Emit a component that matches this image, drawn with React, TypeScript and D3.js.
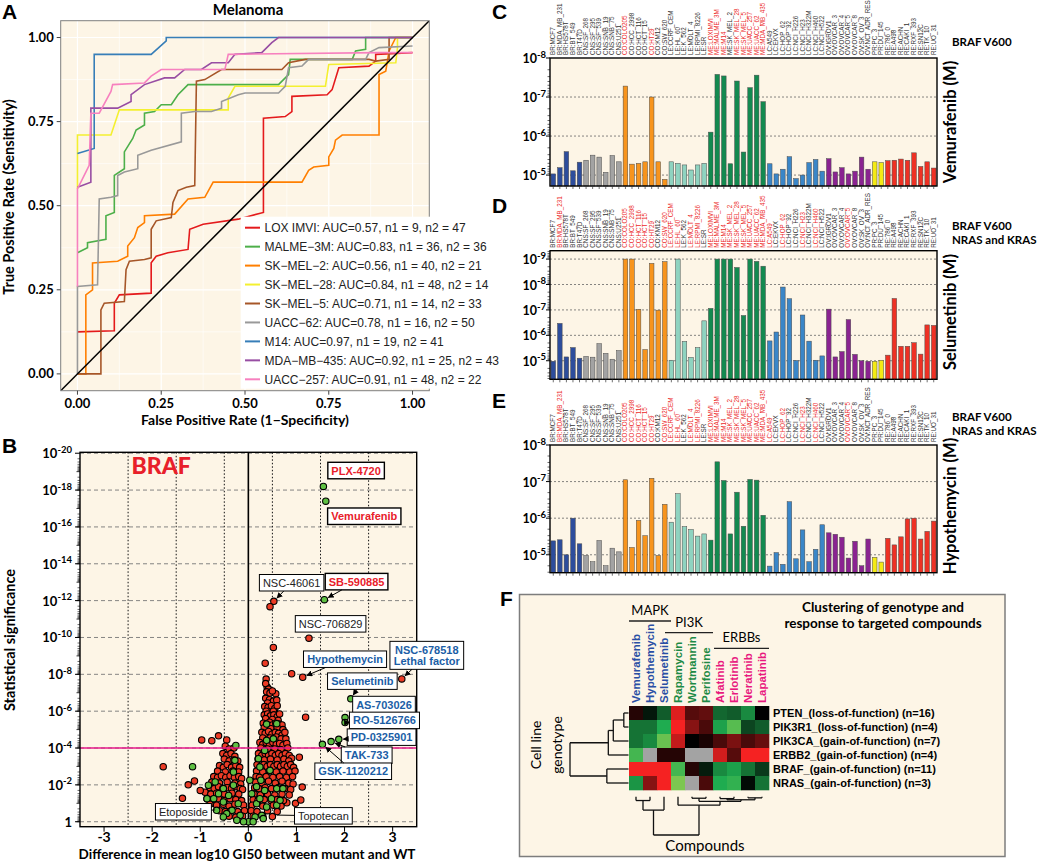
import React, { useEffect, useRef } from 'react';
import * as d3 from 'd3';

const BG = '#fdf5e6';
const SANS = '"Liberation Sans", Arial, sans-serif';
const HEAD = 'Lato, "Open Sans", sans-serif';

// ---------------- Panel A : ROC curves (fpr, tpr) ----------------
const rocLox = [[0,0.125],[0.11,0.128],[0.11,0.21],[0.125,0.235],[0.22,0.24],[0.22,0.33],[0.235,0.35],[0.27,0.36],[0.33,0.37],[0.335,0.43],[0.375,0.445],[0.48,0.46],[0.555,0.48],[0.555,0.76],[0.62,0.765],[0.64,0.78],[0.64,0.825],[0.745,0.83],[0.76,0.845],[0.78,0.91],[0.87,0.915],[0.89,0.93],[0.89,0.95],[1,0.955]];
const rocMalme = [[0,0.36],[0.03,0.375],[0.03,0.39],[0.085,0.4],[0.085,0.47],[0.11,0.48],[0.11,0.59],[0.14,0.61],[0.14,0.66],[0.165,0.7],[0.175,0.725],[0.2,0.74],[0.2,0.775],[0.23,0.78],[0.25,0.8],[0.28,0.8],[0.3,0.83],[0.33,0.86],[0.6,0.86],[0.63,0.89],[0.635,0.935],[0.82,0.935],[0.83,0.96],[0.86,0.965],[0.86,1.0],[1,1]];
const rocSkmel2 = [[0,0],[0.025,0],[0.025,0.235],[0.045,0.25],[0.045,0.33],[0.12,0.335],[0.15,0.35],[0.15,0.38],[0.17,0.405],[0.18,0.435],[0.2,0.45],[0.2,0.47],[0.29,0.475],[0.33,0.52],[0.38,0.525],[0.405,0.57],[0.67,0.57],[0.69,0.605],[0.705,0.615],[0.75,0.62],[0.75,0.645],[0.765,0.67],[0.77,0.695],[0.79,0.71],[0.9,0.71],[0.9,0.89],[0.92,0.9],[0.93,0.96],[0.95,1.0],[1,1]];
const rocSkmel28 = [[0,0.55],[0,0.71],[0.1,0.71],[0.125,0.785],[0.45,0.785],[0.45,0.82],[0.47,0.855],[0.74,0.855],[0.75,0.92],[0.95,0.925],[0.955,0.97],[0.955,1.0],[1,1]];
const rocSkmel5 = [[0,0],[0.07,0],[0.07,0.19],[0.08,0.21],[0.14,0.215],[0.145,0.31],[0.155,0.335],[0.2,0.34],[0.22,0.345],[0.22,0.43],[0.235,0.455],[0.28,0.465],[0.285,0.51],[0.3,0.545],[0.325,0.555],[0.35,0.56],[0.355,0.87],[0.38,0.875],[0.43,0.905],[0.61,0.905],[0.63,0.925],[0.68,0.935],[0.87,0.935],[0.89,0.93],[0.93,0.935],[0.93,1.0],[1,1]];
const rocUacc62 = [[0,0],[0,0.26],[0.06,0.265],[0.065,0.52],[0.1,0.525],[0.12,0.53],[0.12,0.59],[0.14,0.6],[0.18,0.61],[0.18,0.65],[0.22,0.665],[0.31,0.69],[0.31,0.775],[0.35,0.78],[0.4,0.78],[0.43,0.79],[0.43,0.81],[0.48,0.83],[0.5,0.835],[0.6,0.835],[0.62,0.855],[0.63,0.91],[0.67,0.915],[0.69,0.935],[0.86,0.935],[0.87,0.955],[0.9,0.97],[1,0.975]];
const rocM14 = [[0,0.655],[0.05,0.67],[0.05,0.95],[0.22,0.95],[0.265,0.99],[0.265,1.0],[1,1]];
const rocMda435 = [[0,0.555],[0.04,0.57],[0.04,0.79],[0.12,0.79],[0.16,0.81],[0.16,0.83],[0.2,0.86],[0.26,0.88],[0.29,0.88],[0.32,0.905],[0.37,0.905],[0.4,0.925],[0.45,0.925],[0.47,0.95],[0.55,0.955],[0.58,0.985],[0.6,1.0],[1,1]];
const rocUacc257 = [[0,0.26],[0,0.55],[0.025,0.6],[0.035,0.62],[0.04,0.775],[0.065,0.775],[0.1,0.84],[0.105,0.86],[0.2,0.865],[0.22,0.885],[0.25,0.905],[0.44,0.905],[0.45,0.95],[0.9,0.955],[1,0.955]];
const rocCurves = [rocLox, rocMalme, rocSkmel2, rocSkmel28, rocSkmel5, rocUacc62, rocM14, rocMda435, rocUacc257];
const rocLegend = [
  'LOX IMVI: AUC=0.57, n1 = 9, n2 = 47',
  'MALME\u22123M: AUC=0.83, n1 = 36, n2 = 36',
  'SK\u2212MEL\u22122: AUC=0.56, n1 = 40, n2 = 21',
  'SK\u2212MEL\u221228: AUC=0.84, n1 = 48, n2 = 14',
  'SK\u2212MEL\u22125: AUC=0.71, n1 = 14, n2 = 33',
  'UACC\u221262: AUC=0.78, n1 = 16, n2 = 50',
  'M14: AUC=0.97, n1 = 19, n2 = 41',
  'MDA\u2212MB\u2212435: AUC=0.92, n1 = 25, n2 = 43',
  'UACC\u2212257: AUC=0.91, n1 = 48, n2 = 22',
];
const rocColors = ['#e41a1c','#4daf4a','#ff7f00','#f4f030','#a65628','#999999','#377eb8','#984ea3','#f781bf'];
const rocTicks = [0, 0.25, 0.5, 0.75, 1];

// ---------------- Panel B : volcano (difference, -log10 p) ----------------
const bRedPts = [
  [0.53,11.96],[0.45,11.67],[1.26,9.96],[0.52,9.46],[0.35,8.6],[0.9,8.03],[1.13,7.84],[3.19,7.75],[0.37,7.74],[1.19,5.67],[1.06,3.5],
  [-1.77,2.99],[-1.25,2.0],[-1.12,2.21],[-1.37,1.27],[-0.97,4.44],[-0.76,4.4],[-0.62,4.66],[-0.45,4.44],
  [0.8,1.03],[0.98,1.0],[1.09,1.18],[1.12,1.88],[0.72,4.71],
  [0.39,7.31],[0.36,7.5],[0.42,7.2],[0.38,7.05],[0.45,6.98],[0.57,6.95],[0.5,7.1],
  [0.36,6.7],[0.44,6.62],[0.52,6.55],[0.59,6.6],[0.4,6.45],
  [0.34,6.25],[0.41,6.2],[0.48,6.3],[0.55,6.15],[0.6,6.3],[0.37,6.0],[0.52,6.0],
  [0.33,5.8],[0.4,5.85],[0.46,5.75],[0.53,5.8],[0.6,5.7],[0.65,5.85],[0.36,5.6],[0.5,5.55],[0.62,5.5],
  [0.31,5.35],[0.38,5.3],[0.44,5.4],[0.5,5.25],[0.57,5.35],[0.64,5.3],[0.7,5.25],[0.33,5.1],[0.47,5.05],[0.6,5.1],[0.72,5.0],
  [0.28,4.85],[0.35,4.8],[0.42,4.9],[0.49,4.75],[0.56,4.85],[0.63,4.8],[0.7,4.7],[0.76,4.85],[0.3,4.55],[0.45,4.55],[0.58,4.6],[0.68,4.5],[0.78,4.5],
  [0.24,4.3],[0.3,4.2],[0.37,4.3],[0.44,4.2],[0.51,4.3],[0.58,4.2],[0.65,4.25],[0.72,4.15],[0.8,4.25],[0.26,4.0],[0.4,3.95],[0.55,3.95],[0.68,3.9],[0.82,4.0],
  [0.21,3.7],[0.28,3.6],[0.35,3.7],[0.42,3.6],[0.49,3.7],[0.56,3.6],[0.63,3.7],[0.7,3.6],[0.77,3.7],[0.85,3.6],[0.9,3.45],[0.2,3.4],[0.33,3.35],[0.46,3.4],[0.6,3.35],[0.74,3.4],[0.84,3.3],
  [0.18,3.1],[0.25,3.0],[0.32,3.1],[0.39,3.0],[0.46,3.1],[0.53,3.0],[0.6,3.1],[0.67,3.0],[0.74,3.1],[0.81,3.0],[0.88,3.1],[0.94,2.95],[0.17,2.75],[0.3,2.7],[0.44,2.75],[0.58,2.7],[0.72,2.75],[0.86,2.7],[0.97,2.75],
  [0.16,2.45],[0.23,2.4],[0.37,2.45],[0.51,2.4],[0.65,2.45],[0.79,2.4],[0.92,2.45],[0.15,2.15],[0.28,2.1],[0.42,2.2],[0.56,2.1],[0.7,2.2],[0.84,2.1],[0.93,2.05],
  [0.13,1.85],[0.22,1.8],[0.35,1.85],[0.48,1.8],[0.62,1.85],[0.76,1.8],[0.88,1.75],[0.12,1.5],[0.25,1.45],[0.4,1.5],[0.55,1.45],[0.7,1.5],[0.85,1.45],
  [0.1,1.2],[0.2,1.15],[0.33,1.2],[0.47,1.15],[0.6,1.2],[0.73,1.15],[0.08,0.9],[0.3,0.85],[0.52,0.9],[0.68,0.85],
  [0.06,0.6],[0.18,0.55],[0.4,0.6],[0.6,0.55],[0.1,0.3],[0.3,0.3],[0.5,0.28],
  [-0.48,4.1],[-0.4,3.95],[-0.3,4.0],
  [-0.53,3.7],[-0.45,3.6],[-0.36,3.7],[-0.28,3.55],[-0.5,3.4],[-0.4,3.3],[-0.3,3.35],[-0.22,3.3],
  [-0.6,3.05],[-0.52,2.95],[-0.44,3.1],[-0.35,2.95],[-0.26,3.05],[-0.18,2.95],[-0.64,2.75],[-0.48,2.7],[-0.32,2.75],[-0.2,2.7],
  [-0.72,2.45],[-0.64,2.4],[-0.56,2.5],[-0.47,2.4],[-0.38,2.5],[-0.29,2.4],[-0.2,2.45],[-0.14,2.35],[-0.76,2.15],[-0.6,2.1],[-0.44,2.15],[-0.28,2.1],[-0.16,2.05],
  [-0.8,1.85],[-0.71,1.8],[-0.62,1.9],[-0.53,1.8],[-0.44,1.85],[-0.35,1.8],[-0.26,1.9],[-0.17,1.8],[-0.12,1.75],[-0.9,1.6],[-1.0,1.7],[-0.78,1.5],[-0.66,1.55],[-0.5,1.5],[-0.34,1.55],[-0.2,1.5],
  [-0.86,1.25],[-0.74,1.2],[-0.62,1.25],[-0.5,1.15],[-0.38,1.25],[-0.26,1.2],[-0.14,1.15],[-0.8,0.95],[-0.66,0.9],[-0.52,0.95],[-0.4,0.85],[-0.28,0.95],[-0.1,0.9],
  [-0.6,0.6],[-0.48,0.55],[-0.36,0.6],[-0.22,0.55],[-0.08,0.6],[-0.4,0.3],[-0.26,0.25],[-0.12,0.3],
];
const bGreenPts = [
  [1.56,18.2],[1.61,17.4],[1.58,12.05],[2.13,6.67],[2.01,5.65],[2.01,5.38],[1.88,4.47],[1.72,4.35],[1.54,4.2],[-1.16,2.99],
  [-0.26,4.14],[0.38,5.3],[0.59,5.32],[0.38,4.42],[0.52,4.5],[0.21,3.42],[0.45,2.79],[0.26,2.25],[0.17,1.9],[0.59,1.8],[0.34,1.7],[0.72,1.8],
  [0.17,0.98],[0.38,0.8],[0.59,0.9],[0.28,0.35],[0,0],[0.14,0.26],[-0.17,0.35],[-0.34,0.62],[-0.52,1.07],[-0.62,1.52],[-0.52,1.8],[-0.69,2.16],
  [-0.31,1.98],[-0.31,2.7],[-0.28,3.33],[-0.41,1.43],[-0.83,1.98],[-0.72,1.25],[-0.45,0.44],[-0.21,0.98],[0.03,2.25],[0.07,1.52],[0.24,1.25],
  [0.48,1.25],[0.66,1.16],[0.34,3.87],[0.24,2.97],[0.31,0.17],[-0.1,0.0],[-0.24,0.08],[0.1,0.0],[-0.52,0.26],[-0.66,0.62],[-0.86,1.25],
];
const bYTicks = [0,2,4,6,8,10,12,14,16,18,20];
const bXTicks = [-3,-2,-1,0,1,2,3];
const bDotted = [-2.5,-1.5,-0.5,0.5,1.5,2.5];
const bThreshold = 4;
const bAnno = [
  { t: ['PLX-4720'], k: 'red', lx: 2.24, ly: 19.06 },
  { t: ['Vemurafenib'], k: 'red', lx: 2.41, ly: 16.58 },
  { t: ['NSC-46061'], k: 'plain', lx: 0.9, ly: 12.97, px: 0.53, py: 11.96 },
  { t: ['SB-590885'], k: 'red', lx: 2.25, ly: 13.03, px: 1.58, py: 12.05 },
  { t: ['NSC-706829'], k: 'plain', lx: 1.71, ly: 10.74 },
  { t: ['Hypothemycin'], k: 'blue', lx: 2.01, ly: 8.82, px: 1.13, py: 7.84 },
  { t: ['NSC-678518', 'Lethal factor'], k: 'blue', lx: 3.71, ly: 9.03, px: 3.19, py: 7.75 },
  { t: ['Selumetinib'], k: 'blue', lx: 2.37, ly: 7.63, px: 2.13, py: 6.67 },
  { t: ['AS-703026'], k: 'blue', lx: 2.82, ly: 6.36, px: 2.01, py: 5.65 },
  { t: ['RO-5126766'], k: 'blue', lx: 2.83, ly: 5.5, px: 2.01, py: 5.38 },
  { t: ['PD-0325901'], k: 'blue', lx: 2.77, ly: 4.59, px: 1.88, py: 4.47 },
  { t: ['TAK-733'], k: 'blue', lx: 2.46, ly: 3.61, px: 1.72, py: 4.35 },
  { t: ['GSK-1120212'], k: 'blue', lx: 2.18, ly: 2.74, px: 1.54, py: 4.2 },
  { t: ['Etoposide'], k: 'plain', lx: -1.35, ly: 0.54, px: -0.69, py: 0.64, noArrow: true },
  { t: ['Topotecan'], k: 'plain', lx: 1.56, ly: 0.32, px: 0.59, py: 0.36, noArrow: true },
];

// ---------------- Panels C, D, E : NCI-60 bars (-log10 GI50) ----------------
const cellLines = ['BR:MCF7','BR:MDA_MB_231','BR:HS578T','BR:BT_549','BR:T47D','CNS:SF_268','CNS:SF_295','CNS:SF_539','CNS:SNB_19','CNS:SNB_75','CNS:U251','CO:COLO205','CO:HCC_2998','CO:HCT_116','CO:HCT_15','CO:HT29','CO:KM12','CO:SW_620','LE:CCRF_CEM','LE:HL_60','LE:K_562','LE:MOLT_4','LE:RPMI_8226','LE:SR','ME:LOXIMVI','ME:MALME_3M','ME:M14','ME:SK_MEL_2','ME:SK_MEL_28','ME:SK_MEL_5','ME:UACC_257','ME:UACC_62','ME:MDA_MB_435','LC:A549','LC:EKVX','LC:HOP_62','LC:HOP_92','LC:NCI_H226','LC:NCI_H23','LC:NCI_H322M','LC:NCI_H460','LC:NCI_H522','OV:IGROV1','OV:OVCAR_3','OV:OVCAR_4','OV:OVCAR_5','OV:OVCAR_8','OV:SK_OV_3','OV:NCI_ADR_RES','PR:PC_3','PR:DU_145','RE:786_0','RE:A498','RE:ACHN','RE:CAKI_1','RE:RXF_393','RE:SN12C','RE:TK_10','RE:UO_31'];
const vemurafenib = [5.03,5.19,5.6,5.11,5.33,5.38,5.51,5.46,5.07,5.5,5.34,7.28,5.28,5.3,5.34,7.0,5.34,4.89,5.34,5.3,5.26,5.13,5.26,5.3,6.1,7.58,7.54,5.29,7.41,5.59,7.24,7.56,6.88,5.29,5.03,5.15,5.47,4.91,5.0,5.32,5.4,5.1,5.42,5.08,5.19,5.03,5.1,5.46,5.15,5.34,5.32,5.37,5.38,5.41,5.38,5.57,5.22,5.34,5.18];
const selumetinib = [4.98,6.47,5.15,5.52,5.1,5.17,5.14,5.67,5.29,5.06,5.4,9.0,9.0,7.02,5.44,8.83,6.99,8.9,5.02,9.0,5.76,5.13,5.52,6.57,7.06,9.0,9.0,9.0,8.67,6.78,9.0,8.91,8.72,5.78,6.13,7.9,7.44,5.01,6.8,5.77,5.02,5.19,7.03,5.15,5.36,6.62,5.25,5.0,4.98,4.98,5.02,5.22,7.45,5.57,5.57,5.71,5.26,6.41,6.39];
const hypothemycin = [5.38,5.41,5.0,6.0,5.3,4.98,4.81,5.39,4.7,5.18,5.08,7.05,5.2,5.94,5.52,7.09,4.98,6.38,5.89,6.67,5.77,5.69,5.51,5.57,5.4,7.54,7.03,5.57,6.71,5.78,7.06,7.04,6.08,4.69,5.06,4.74,6.45,4.89,5.68,4.81,5.15,5.82,5.6,5.56,5.48,4.91,5.37,4.7,5.43,4.93,4.8,5.45,5.27,5.49,5.98,6.0,5.43,5.64,5.92];
const redLabelsC = ['CO:COLO205','CO:HT29','ME:LOXIMVI','ME:MALME_3M','ME:M14','ME:SK_MEL_28','ME:SK_MEL_5','ME:UACC_257','ME:UACC_62','ME:MDA_MB_435'];
const redLabelsDE = ['BR:MDA_MB_231','CO:COLO205','CO:HCC_2998','CO:HCT_116','CO:HCT_15','CO:HT29','CO:SW_620','LE:CCRF_CEM','LE:HL_60','LE:MOLT_4','LE:RPMI_8226','ME:LOXIMVI','ME:MALME_3M','ME:M14','ME:SK_MEL_2','ME:SK_MEL_28','ME:SK_MEL_5','ME:UACC_257','ME:UACC_62','ME:MDA_MB_435','LC:A549','LC:HOP_62','LC:NCI_H23','LC:NCI_H460','OV:OVCAR_5'];
const tissueColors = { BR: '#2d4d9c', CNS: '#a3a3a3', CO: '#f7941d', LE: '#8fd3c0', ME: '#138a50', LC: '#3a86c8', OV: '#8a2391', PR: '#f4ea14', RE: '#ee3124' };

// ---------------- Panel F : clustered heatmap ----------------
const compounds = ['Vemurafenib','Hypothemycin','Selumetinib','Rapamycin','Wortmannin','Perifosine','Afatinib','Erlotinib','Neratinib','Lapatinib'];
const compoundClass = ['MAPK','MAPK','MAPK','PI3K','PI3K','PI3K','ERBB','ERBB','ERBB','ERBB'];
const genotypes = ['PTEN_(loss-of-function) (n=16)','PIK3R1_(loss-of-function) (n=4)','PIK3CA_(gain-of-function) (n=7)','ERBB2_(gain-of-function) (n=4)','BRAF_(gain-of-function) (n=11)','NRAS_(gain-of-function) (n=3)'];
const heatPTEN = [0.15,-0.1,-0.4,0.9,0.35,0.4,-0.45,-0.4,-0.6,0.0];
const heatPIK3R1 = [-0.5,-0.5,-0.75,1.0,0.55,0.3,-0.7,-0.9,-0.3,-0.4];
const heatPIK3CA = [-0.5,-0.6,-0.95,0.8,0.0,0.1,0.3,0.5,0.3,0.42];
const heatERBB2 = [-0.85,NaN,0.15,0.15,NaN,NaN,0.85,0.35,1.0,1.0];
const heatBRAF = [1.0,1.0,1.0,-0.85,0.15,-0.12,-0.6,-0.7,-0.5,-0.25];
const heatNRAS = [-0.65,0.55,1.0,-1.0,NaN,0.3,-0.75,-0.8,-0.05,-0.5];
const heatRows = [heatPTEN, heatPIK3R1, heatPIK3CA, heatERBB2, heatBRAF, heatNRAS];
const rowMerges = [['L0','L1',0.08],['N0','L2',0.26],['N1','L3',0.345],['L4','L5',0.37],['N2','N3',1.0]];
const colMerges = [['L0','L1',0.1],['N0','L2',0.35],['L4','L5',0.04],['L6','L7',0.05],['L8','L9',0.03],['N3','N4',0.08],['N2','N5',0.12],['L3','N6',0.22],['N1','N7',1.0]];

function supLabel(sel: any, x: number, y: number, base: string, exp: string, size: number, expSize: number, anchor = 'end') {
  const t = sel.append('text').attr('x', x).attr('y', y).attr('text-anchor', anchor)
    .attr('font-family', HEAD).attr('font-weight', 700).attr('font-size', size).attr('fill', '#000');
  t.append('tspan').text(base);
  if (exp) t.append('tspan').attr('dy', -size * 0.42).attr('font-size', expSize).text(exp);
  return t;
}

function draw(svg: any) {
  const defs = svg.append('defs');
  defs.append('marker').attr('id', 'arr').attr('viewBox', '0 0 10 10').attr('refX', 9).attr('refY', 5)
    .attr('markerWidth', 6).attr('markerHeight', 6).attr('orient', 'auto')
    .append('path').attr('d', 'M0,0 L10,5 L0,10 z').attr('fill', '#000');

  // panel letters
  const letters = [['A', 2, 19], ['B', 2, 453], ['C', 492, 19], ['D', 492, 213], ['E', 492, 408], ['F', 500, 606]];
  letters.forEach(([l, x, y]) => svg.append('text').attr('x', x).attr('y', y).attr('font-family', SANS)
    .attr('font-weight', 700).attr('font-size', 21).text(l));

  // ======== Panel A ========
  const A = { l: 60.7, r: 429.3, t: 20.7, b: 390.7 };
  const xA = d3.scaleLinear().domain([-0.05, 1.05]).range([A.l, A.r]);
  const yA = d3.scaleLinear().domain([-0.05, 1.05]).range([A.b, A.t]);
  const gA = svg.append('g');
  gA.append('rect').attr('x', A.l).attr('y', A.t).attr('width', A.r - A.l).attr('height', A.b - A.t).attr('fill', BG);
  [0.125, 0.375, 0.625, 0.875].forEach(v => {
    gA.append('line').attr('x1', xA(v)).attr('x2', xA(v)).attr('y1', A.t).attr('y2', A.b).attr('stroke', '#fff').attr('stroke-width', 0.6);
    gA.append('line').attr('y1', yA(v)).attr('y2', yA(v)).attr('x1', A.l).attr('x2', A.r).attr('stroke', '#fff').attr('stroke-width', 0.6);
  });
  rocTicks.forEach(v => {
    gA.append('line').attr('x1', xA(v)).attr('x2', xA(v)).attr('y1', A.t).attr('y2', A.b).attr('stroke', '#fff').attr('stroke-width', 1.2);
    gA.append('line').attr('y1', yA(v)).attr('y2', yA(v)).attr('x1', A.l).attr('x2', A.r).attr('stroke', '#fff').attr('stroke-width', 1.2);
  });
  defs.append('clipPath').attr('id', 'clipA').append('rect').attr('x', A.l).attr('y', A.t).attr('width', A.r - A.l).attr('height', A.b - A.t);
  const gAL = gA.append('g').attr('clip-path', 'url(#clipA)');
  const lineA = d3.line().x((d: any) => xA(d[0])).y((d: any) => yA(d[1]));
  rocCurves.forEach((c, i) => gAL.append('path').attr('d', lineA(c as any)).attr('fill', 'none')
    .attr('stroke', rocColors[i]).attr('stroke-width', 1.6));
  gAL.append('line').attr('x1', xA(-0.05)).attr('y1', yA(-0.05)).attr('x2', xA(1.05)).attr('y2', yA(1.05))
    .attr('stroke', '#000').attr('stroke-width', 1.5);
  gA.append('rect').attr('x', A.l).attr('y', A.t).attr('width', A.r - A.l).attr('height', A.b - A.t)
    .attr('fill', 'none').attr('stroke', '#7f7f7f').attr('stroke-width', 1);
  rocTicks.forEach(v => {
    gA.append('line').attr('x1', A.l - 4).attr('x2', A.l).attr('y1', yA(v)).attr('y2', yA(v)).attr('stroke', '#444');
    gA.append('line').attr('y1', A.b).attr('y2', A.b + 4).attr('x1', xA(v)).attr('x2', xA(v)).attr('stroke', '#444');
    gA.append('text').attr('x', A.l - 7).attr('y', yA(v) + 4.5).attr('text-anchor', 'end').attr('font-family', HEAD)
      .attr('font-weight', 700).attr('font-size', 13).text(d3.format('.2f')(v));
    gA.append('text').attr('x', xA(v)).attr('y', 408).attr('text-anchor', 'middle').attr('font-family', HEAD)
      .attr('font-weight', 700).attr('font-size', 13).text(d3.format('.2f')(v));
  });
  gA.append('text').attr('x', 248).attr('y', 15).attr('text-anchor', 'middle').attr('font-family', HEAD)
    .attr('font-weight', 700).attr('font-size', 15).text('Melanoma');
  gA.append('text').attr('x', 245).attr('y', 425).attr('text-anchor', 'middle').attr('font-family', HEAD)
    .attr('font-weight', 700).attr('font-size', 14).text('False Positive Rate (1\u2212Specificity)');
  gA.append('text').attr('transform', 'translate(14,197) rotate(-90)').attr('text-anchor', 'middle').attr('font-family', HEAD)
    .attr('font-weight', 700).attr('font-size', 14.5).text('True Positive Rate (Sensitivity)');
  // legend
  const lg = gA.append('g');
  lg.append('rect').attr('x', 240.7).attr('y', 216.7).attr('width', 239.3).attr('height', 172).attr('fill', '#fff');
  rocLegend.forEach((s, i) => {
    const y = 227.7 + i * 18.95;
    lg.append('line').attr('x1', 245).attr('x2', 260).attr('y1', y).attr('y2', y).attr('stroke', rocColors[i]).attr('stroke-width', 2);
    lg.append('text').attr('x', 264.5).attr('y', y + 4.2).attr('font-family', SANS).attr('font-size', 12).attr('fill', '#222').text(s);
  });

  // ======== Panel B ========
  const B = { l: 80, r: 416.7, t: 452.3, b: 826.7 };
  const xB = d3.scaleLinear().domain([-3.5, 3.5]).range([B.l, B.r]);
  const yB = d3.scaleLinear().domain([-0.27, 20.05]).range([B.b, B.t]);
  const gB = svg.append('g');
  gB.append('rect').attr('x', B.l).attr('y', B.t).attr('width', B.r - B.l).attr('height', B.b - B.t).attr('fill', BG);
  bYTicks.forEach(v => gB.append('line').attr('x1', B.l).attr('x2', B.r).attr('y1', yB(v)).attr('y2', yB(v))
    .attr('stroke', '#777').attr('stroke-width', 0.9).attr('stroke-dasharray', '4,3'));
  bDotted.forEach(v => gB.append('line').attr('x1', xB(v)).attr('x2', xB(v)).attr('y1', B.t).attr('y2', B.b)
    .attr('stroke', '#111').attr('stroke-width', 1).attr('stroke-dasharray', '1.5,2'));
  gB.append('line').attr('x1', xB(0)).attr('x2', xB(0)).attr('y1', B.t).attr('y2', B.b).attr('stroke', '#000').attr('stroke-width', 1.6);
  defs.append('clipPath').attr('id', 'clipB').append('rect').attr('x', B.l).attr('y', B.t).attr('width', B.r - B.l).attr('height', B.b - B.t);
  const gBP = gB.append('g').attr('clip-path', 'url(#clipB)');
  gBP.selectAll('circle.r').data(bRedPts).enter().append('circle').attr('cx', (d: any) => xB(d[0])).attr('cy', (d: any) => yB(d[1]))
    .attr('r', 3.2).attr('fill', '#ec3b25').attr('stroke', '#000').attr('stroke-width', 1.1);
  gBP.selectAll('circle.g').data(bGreenPts).enter().append('circle').attr('cx', (d: any) => xB(d[0])).attr('cy', (d: any) => yB(d[1]))
    .attr('r', 3.2).attr('fill', '#5fc043').attr('stroke', '#000').attr('stroke-width', 1.1);
  gB.append('line').attr('x1', B.l).attr('x2', B.r).attr('y1', yB(bThreshold)).attr('y2', yB(bThreshold))
    .attr('stroke', '#e6198a').attr('stroke-width', 1.6);
  gB.append('rect').attr('x', B.l).attr('y', B.t).attr('width', B.r - B.l).attr('height', B.b - B.t)
    .attr('fill', 'none').attr('stroke', '#000').attr('stroke-width', 1.4);
  // y axis ticks
  for (let d = 0; d < 20; d++) {
    for (let k = 2; k <= 9; k++) {
      const v = d + 1 - Math.log10(k);
      gB.append('line').attr('x1', B.l - 2.5).attr('x2', B.l).attr('y1', yB(v)).attr('y2', yB(v)).attr('stroke', '#000').attr('stroke-width', 0.6);
    }
    gB.append('line').attr('x1', B.l - 3.5).attr('x2', B.l).attr('y1', yB(d)).attr('y2', yB(d)).attr('stroke', '#000').attr('stroke-width', 0.8);
  }
  bYTicks.forEach(v => {
    gB.append('line').attr('x1', B.l - 5).attr('x2', B.l).attr('y1', yB(v)).attr('y2', yB(v)).attr('stroke', '#000');
    if (v === 0) supLabel(gB, 72, yB(v) + 5, '1', '', 13, 9);
    else supLabel(gB, 72, yB(v) + 5, '10', '-' + v, 13, 9.5);
  });
  bXTicks.forEach(v => {
    gB.append('line').attr('x1', xB(v)).attr('x2', xB(v)).attr('y1', B.b).attr('y2', B.b + 5).attr('stroke', '#000');
    gB.append('text').attr('x', xB(v)).attr('y', 842).attr('text-anchor', 'middle').attr('font-family', HEAD)
      .attr('font-weight', 700).attr('font-size', 14).text(String(v));
  });
  gB.append('text').attr('x', 247).attr('y', 859).attr('text-anchor', 'middle').attr('font-family', HEAD)
    .attr('font-weight', 700).attr('font-size', 13.5).text('Difference in mean log10 GI50 between mutant and WT');
  gB.append('text').attr('transform', 'translate(15,640) rotate(-90)').attr('text-anchor', 'middle').attr('font-family', HEAD)
    .attr('font-weight', 700).attr('font-size', 14.5).text('Statistical significance');
  gB.append('text').attr('x', xB(-2.43)).attr('y', yB(18.85)).attr('font-family', HEAD).attr('font-weight', 900)
    .attr('font-size', 23).attr('fill', '#e8202a').text('BRAF');
  // annotations
  const annoColor: any = { red: '#e8202a', blue: '#1b5ea6', plain: '#222' };
  bAnno.forEach((a: any) => {
    const cx = xB(a.lx), cy = yB(a.ly);
    const g = gB.append('g');
    const bold = a.k !== 'plain';
    const lh = 11.5;
    const t = g.append('text').attr('font-family', SANS).attr('font-size', 11).attr('font-weight', bold ? 700 : 400)
      .attr('fill', annoColor[a.k]).attr('text-anchor', 'middle');
    a.t.forEach((s: string, i: number) => t.append('tspan').attr('x', cx)
      .attr('y', cy + 4 + (i - (a.t.length - 1) / 2) * lh).text(s));
    const bb = (t.node() as any).getBBox();
    const w = bb.width + 7, h = a.t.length * lh + 5;
    const rx = cx - w / 2, ry = cy - h / 2;
    g.insert('rect', 'text').attr('x', rx).attr('y', ry).attr('width', w).attr('height', h).attr('fill', '#fff')
      .attr('stroke', '#000').attr('stroke-width', a.k === 'red' ? 1.4 : 1);
    if (a.px !== undefined) {
      const px = xB(a.px), py = yB(a.py);
      const dx = px - cx, dy = py - cy;
      const s = Math.min(Math.abs((w / 2) / (dx || 1e-6)), Math.abs((h / 2) / (dy || 1e-6)));
      const sx = cx + dx * s, sy = cy + dy * s;
      const len = Math.hypot(px - sx, py - sy);
      const back = a.noArrow ? 0 : 4.5;
      const ex = px - (px - sx) / len * back, ey = py - (py - sy) / len * back;
      const ln = gB.append('line').attr('x1', sx).attr('y1', sy).attr('x2', ex).attr('y2', ey).attr('stroke', '#000').attr('stroke-width', 1);
      if (!a.noArrow) ln.attr('marker-end', 'url(#arr)');
    }
  });

  // ======== Panels C, D, E ========
  const xBar = d3.scaleBand().domain(cellLines).range([550, 937]).paddingInner(0.3).paddingOuter(0.15);
  const barPanels = [
    { vals: vemurafenib, top: 58, bot: 186, dom: [4.72, 8.0], ticks: [5, 6, 7, 8], red: redLabelsC, title: 'Vemurafenib (M)', ty: 122, hdr: ['BRAF V600'], hy: 46 },
    { vals: selumetinib, top: 250.7, bot: 379.3, dom: [4.27, 9.33], ticks: [5, 6, 7, 8, 9], red: redLabelsDE, title: 'Selumetinib (M)', ty: 312, hdr: ['BRAF V600', 'NRAS and KRAS'], hy: 230 },
    { vals: hypothemycin, top: 445, bot: 572.7, dom: [4.51, 8.0], ticks: [5, 6, 7, 8], red: redLabelsDE, title: 'Hypothemycin (M)', ty: 506, hdr: ['BRAF V600', 'NRAS and KRAS'], hy: 421 },
  ];
  barPanels.forEach((p, pi) => {
    const g = svg.append('g');
    const y = d3.scaleLinear().domain(p.dom).range([p.bot, p.top]);
    g.append('rect').attr('x', 550).attr('y', p.top).attr('width', 387).attr('height', p.bot - p.top).attr('fill', BG);
    p.ticks.forEach(v => {
      if (y(v) > p.top + 2) g.append('line').attr('x1', 550).attr('x2', 937).attr('y1', y(v)).attr('y2', y(v))
        .attr('stroke', '#666').attr('stroke-width', 0.8).attr('stroke-dasharray', '2,2');
    });
    g.selectAll('rect.bar').data(p.vals).enter().append('rect')
      .attr('x', (d: any, i: number) => xBar(cellLines[i]) as number)
      .attr('width', xBar.bandwidth())
      .attr('y', (d: any) => y(d)).attr('height', (d: any) => p.bot - y(d))
      .attr('fill', (d: any, i: number) => (tissueColors as any)[cellLines[i].split(':')[0]])
      .attr('stroke', '#4a4a4a').attr('stroke-width', 0.5);
    g.append('rect').attr('x', 550).attr('y', p.top).attr('width', 387).attr('height', p.bot - p.top)
      .attr('fill', 'none').attr('stroke', '#000').attr('stroke-width', 1.4);
    // minor ticks
    for (let d = Math.floor(p.dom[0]); d < Math.ceil(p.dom[1]); d++) {
      for (let k = 2; k <= 9; k++) {
        const v = d + 1 - Math.log10(k);
        if (v > p.dom[0] && v < p.dom[1]) g.append('line').attr('x1', 547.5).attr('x2', 550).attr('y1', y(v)).attr('y2', y(v)).attr('stroke', '#000').attr('stroke-width', 0.6);
      }
    }
    p.ticks.forEach(v => {
      g.append('line').attr('x1', 546).attr('x2', 550).attr('y1', y(v)).attr('y2', y(v)).attr('stroke', '#000');
      supLabel(g, 546, y(v) + 5, '10', '-' + v, 12.5, 9.5);
    });
    cellLines.forEach((c, i) => {
      const cx = (xBar(c) as number) + xBar.bandwidth() / 2;
      g.append('line').attr('x1', cx).attr('x2', cx).attr('y1', p.bot).attr('y2', p.bot + 3).attr('stroke', '#333').attr('stroke-width', 0.7);
      g.append('text').attr('transform', `translate(${cx + 2},${p.top - 3}) rotate(-90)`).attr('font-family', SANS)
        .attr('font-size', 6.3).attr('fill', p.red.includes(c) ? '#ec2a2a' : '#333').text(c);
    });
    g.append('text').attr('transform', `translate(956,${p.ty}) rotate(-90)`).attr('text-anchor', 'middle').attr('font-family', HEAD)
      .attr('font-weight', 700).attr('font-size', 16.5).text(p.title);
    p.hdr.forEach((h, i) => g.append('text').attr('x', 952).attr('y', p.hy + i * 13.5).attr('font-family', HEAD)
      .attr('font-weight', 700).attr('font-size', 11.5).text(h));
  });

  // ======== Panel F ========
  const gF = svg.append('g');
  gF.append('rect').attr('x', 519.5).attr('y', 594.5).attr('width', 485.5).attr('height', 262).attr('fill', BG)
    .attr('stroke', '#7d7d7d').attr('stroke-width', 1.5);
  const xF = d3.scaleBand().domain(compounds).range([629, 769]);
  const yF = d3.scaleBand().domain(genotypes).range([706, 790]);
  const heatColor = d3.scaleLinear<string>().domain([-1, -0.75, 0, 1]).range(['#7cc650', '#1fac50', '#000000', '#f52222']);
  heatRows.forEach((row, ri) => row.forEach((v, ci) => {
    gF.append('rect').attr('x', xF(compounds[ci]) as number).attr('y', yF(genotypes[ri]) as number)
      .attr('width', xF.bandwidth() + 0.3).attr('height', yF.bandwidth() + 0.3)
      .attr('fill', isNaN(v) ? '#a3a3a3' : heatColor(v));
  }));
  const classColor: any = { MAPK: '#2a4fa5', PI3K: '#1d8a45', ERBB: '#e8197f' };
  compounds.forEach((c, i) => {
    const cx = (xF(c) as number) + xF.bandwidth() / 2;
    gF.append('text').attr('transform', `translate(${cx + 4.3},703) rotate(-90)`).attr('font-family', SANS)
      .attr('font-weight', 700).attr('font-size', 11.5).attr('fill', classColor[compoundClass[i]]).text(c);
  });
  genotypes.forEach(gname => gF.append('text').attr('x', 773).attr('y', (yF(gname) as number) + yF.bandwidth() / 2 + 4)
    .attr('font-family', SANS).attr('font-weight', 700).attr('font-size', 11).text(gname));
  // group headers
  const groups = [['MAPK', 0, 2, 621, 'MAPK'], ['PI3K', 3, 5, 632.7, 'PI3K'], ['ERBB', 6, 9, 648.3, 'ERBBs']];
  groups.forEach(([k, a, b, ly, lab]: any) => {
    const x1 = xF(compounds[a]) as number, x2 = (xF(compounds[b]) as number) + xF.bandwidth();
    const lx1 = k === 'PI3K' ? x1 - 6 : k === 'ERBB' ? x1 + 1 : x1;
    gF.append('line').attr('x1', lx1).attr('x2', x2).attr('y1', ly).attr('y2', ly).attr('stroke', '#222').attr('stroke-width', 1.3);
    gF.append('text').attr('x', (lx1 + x2) / 2).attr('y', ly - 6).attr('text-anchor', 'middle').attr('font-family', HEAD)
      .attr('font-size', 13).text(lab);
  });
  gF.append('text').attr('x', 883).attr('y', 612).attr('text-anchor', 'middle').attr('font-family', HEAD).attr('font-weight', 700)
    .attr('font-size', 13.5).text('Clustering of genotype and');
  gF.append('text').attr('x', 883).attr('y', 628).attr('text-anchor', 'middle').attr('font-family', HEAD).attr('font-weight', 700)
    .attr('font-size', 13.5).text('response to targeted compounds');
  // dendrograms
  function drawTree(merges: any[], leafPos: number[], coord: (h: number) => number, row: boolean) {
    const pos: any = {}, ht: any = {};
    leafPos.forEach((p, i) => { pos['L' + i] = p; ht['L' + i] = 0; });
    merges.forEach((m, i) => {
      const [a, b, h] = m;
      const id = 'N' + i;
      pos[id] = (pos[a] + pos[b]) / 2; ht[id] = h;
      const segs = [[ht[a], pos[a], h, pos[a]], [ht[b], pos[b], h, pos[b]], [h, pos[a], h, pos[b]]];
      segs.forEach(([h1, p1, h2, p2]) => {
        const l = gF.append('line').attr('stroke', '#111').attr('stroke-width', 1.3);
        if (row) l.attr('x1', coord(h1)).attr('x2', coord(h2)).attr('y1', p1).attr('y2', p2);
        else l.attr('y1', coord(h1)).attr('y2', coord(h2)).attr('x1', p1).attr('x2', p2);
      });
    });
  }
  drawTree(rowMerges, genotypes.map(g => (yF(g) as number) + yF.bandwidth() / 2), h => 628.5 - h * 58.5, true);
  drawTree(colMerges, compounds.map(c => (xF(c) as number) + xF.bandwidth() / 2), h => 796.7 + h * 38.3, false);
  gF.append('text').attr('transform', 'translate(541,745) rotate(-90)').attr('text-anchor', 'middle').attr('font-family', HEAD)
    .attr('font-size', 14).text('Cell line');
  gF.append('text').attr('transform', 'translate(562,745) rotate(-90)').attr('text-anchor', 'middle').attr('font-family', HEAD)
    .attr('font-size', 14).text('genotype');
  gF.append('text').attr('x', 705).attr('y', 851).attr('text-anchor', 'middle').attr('font-family', HEAD)
    .attr('font-size', 15).text('Compounds');
}

export default function App() {
  const ref = useRef<SVGSVGElement>(null);
  useEffect(() => {
    const svg = d3.select(ref.current);
    svg.selectAll('*').remove();
    draw(svg);
  }, []);
  return (
    <svg ref={ref} width={1050} height={863} style={{ position: 'absolute', left: 0, top: 0, background: '#fff' }} />
  );
}
